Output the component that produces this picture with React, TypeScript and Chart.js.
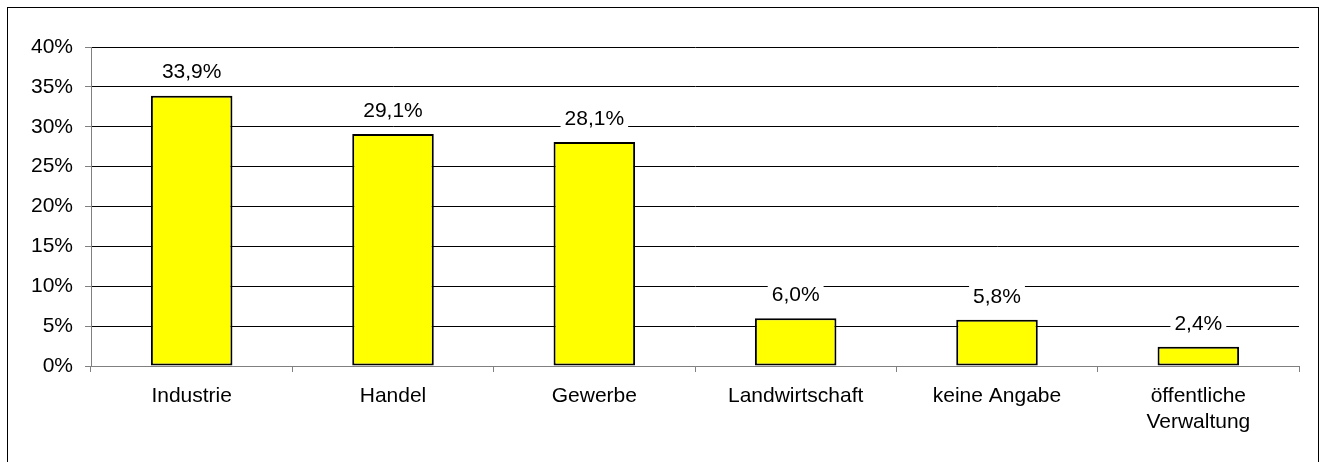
import React, { useEffect, useRef } from 'react';
import { Chart, registerables } from 'chart.js';

Chart.register(...registerables);

const categories: (string | string[])[] = [
  'Industrie',
  'Handel',
  'Gewerbe',
  'Landwirtschaft',
  'keine Angabe',
  ['öffentliche', 'Verwaltung'],
];
const shares: number[] = [33.9, 29.1, 28.1, 6.0, 5.8, 2.4];
const yMax = 40;
const yStep = 5;

const FONT = '"Liberation Sans", Arial, sans-serif';
const FONT_SIZE = 21;

const valueLabels = {
  id: 'valueLabels',
  afterDatasetsDraw(chart: any) {
    const ctx = chart.ctx;
    const meta = chart.getDatasetMeta(0);
    ctx.save();
    ctx.font = `${FONT_SIZE}px ${FONT}`;
    ctx.textAlign = 'center';
    ctx.textBaseline = 'middle';
    meta.data.forEach((bar: any, i: number) => {
      const txt = shares[i].toFixed(1).replace('.', ',') + '%';
      const w = ctx.measureText(txt).width;
      const cy = bar.y - 23;
      ctx.fillStyle = '#ffffff';
      ctx.fillRect(bar.x - w / 2 - 4, cy - 13, w + 8, 26);
      ctx.fillStyle = '#000000';
      ctx.fillText(txt, bar.x, cy);
    });
    ctx.restore();
  },
};

export default function App() {
  const ref = useRef<HTMLCanvasElement | null>(null);
  useEffect(() => {
    if (!ref.current) return;
    const chart = new Chart(ref.current, {
      type: 'bar',
      data: {
        labels: categories as any,
        datasets: [
          {
            data: shares,
            backgroundColor: '#ffff00',
            borderColor: '#000000',
            borderWidth: 2,
            borderSkipped: false,
            barPercentage: 0.405,
            categoryPercentage: 1,
          },
        ],
      },
      options: {
        animation: false,
        responsive: false,
        devicePixelRatio: 1,
        layout: { padding: { top: 39, right: 19, left: 0, bottom: 0 } },
        plugins: {
          legend: { display: false },
          tooltip: { enabled: false },
          title: { display: false },
        },
        scales: {
          x: {
            afterFit(scale: any) {
              scale.height = 96;
            },
            grid: {
              offset: true,
              drawOnChartArea: false,
              drawTicks: true,
              tickLength: 6,
              tickColor: '#808080',
              color: '#808080',
            },
            border: { color: '#808080', width: 1 },
            ticks: {
              autoSkip: false,
              maxRotation: 0,
              minRotation: 0,
              padding: 12,
              color: '#000000',
              font: { family: FONT, size: FONT_SIZE, lineHeight: 1.2 },
            },
          },
          y: {
            min: 0,
            max: yMax,
            afterFit(scale: any) {
              scale.width = 83;
            },
            grid: {
              color: (c: any) => (c.tick && c.tick.value === 0 ? '#808080' : '#000000'),
              tickColor: '#808080',
              tickLength: 6,
              lineWidth: 1,
            },
            border: { color: '#808080', width: 1 },
            ticks: {
              stepSize: yStep,
              padding: 12,
              color: '#000000',
              font: { family: FONT, size: FONT_SIZE },
              callback: (v: any) => `${v}%`,
            },
          },
        },
      },
      plugins: [valueLabels],
    });
    return () => chart.destroy();
  }, []);

  return (
    <div
      style={{
        position: 'absolute',
        left: 7,
        top: 7,
        width: 1312,
        height: 470,
        border: '1px solid #000',
        boxSizing: 'border-box',
        background: '#fff',
      }}
    >
      <canvas ref={ref} width={1310} height={454} style={{ display: 'block', width: 1310, height: 454 }} />
    </div>
  );
}
